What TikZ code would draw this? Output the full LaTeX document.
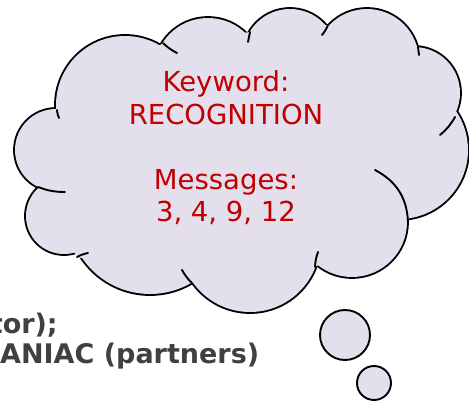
\documentclass[tikz,border=0pt]{standalone}
\usepackage{fontspec}
\setmainfont{DejaVu Sans}
\definecolor{cloudfill}{RGB}{228,223,236}
\definecolor{keyred}{RGB}{192,0,0}
\definecolor{darktext}{RGB}{64,64,64}
\begin{document}
\begin{tikzpicture}[x=1pt,y=-1pt,
    bubble/.style={circle,draw,line width=1.9pt,fill=cloudfill,inner sep=0pt},
    seam/.style={line width=1.9pt,line cap=round},
    keytext/.style={text=keyred,align=center,font=\fontsize{27.5}{32.5}\selectfont},
    sidetext/.style={text=darktext,inner sep=0pt,font=\bfseries\fontsize{27}{30}\selectfont}]
        \useasboundingbox (0,0) rectangle (469,401);
        % Draw the puffs with a double stroke
        \foreach \cx/\cy/\r in {125/105/69, 208/72/54, 290/56/47, 367/61/52, 414/93/46,
                                399/150/69, 352/222/55, 250/242/70, 150/212/82, 64/216/38, 56/150/41}
            \draw[line width=3.8pt,fill=cloudfill] (\cx,\cy) circle (\r pt);
        % Fill them again so only the outer half of the stroke is left
        \foreach \cx/\cy/\r in {125/105/69, 208/72/54, 290/56/47, 367/61/52, 414/93/46,
                                399/150/69, 352/222/55, 250/242/70, 150/212/82, 64/216/38, 56/150/41}
            \fill[cloudfill] (\cx,\cy) circle (\r pt);
        \fill[cloudfill] (57,117) -- (163,43) -- (250,32) -- (328,25) -- (418,47) -- (455,117)
            -- (408,220) -- (315,267) -- (192,283) -- (77,257) -- (38,187) -- cycle;
        % Inner strokes of the cloud
        \draw[seam] (57,110) to[bend right=10] (59,118);
        \draw[seam] (163,43) to[bend right=8] (177,53);
        \draw[seam] (250,32) to (248,42);
        \draw[seam] (328,25) to[bend left=8] (322,35);
        \draw[seam] (418,47) to (419,55);
        \draw[seam] (455,117) to[bend left=10] (440,135);
        \draw[seam] (375,170) to[bend left=30] (408,222);
        \draw[seam] (315,267) to[bend left=8] (318,252);
        \draw[seam] (192,283) to[bend left=8] (182,270);
        \draw[seam] (77,257) to[bend left=8] (88,253);
        \draw[seam] (38,187) to[bend right=10] (65,192);
        % Text of the cloud
        \node[keytext] (msg) at (226,148) {Keyword:\\RECOGNITION\\[32.5pt]Messages:\\3, 4, 9, 12};
        % Small bubbles
        \node[bubble,minimum size=50pt] (bub1) at (345,335) {};
        \node[bubble,minimum size=34pt] (bub2) at (374,383) {};
        % Text cut at the left edge
        \node[sidetext,anchor=base east] (lineA) at (58,333) {tor);};
        \node[sidetext,anchor=base west] (lineB) at (0,363) {ANIAC (partners)};
\end{tikzpicture}
\end{document}
